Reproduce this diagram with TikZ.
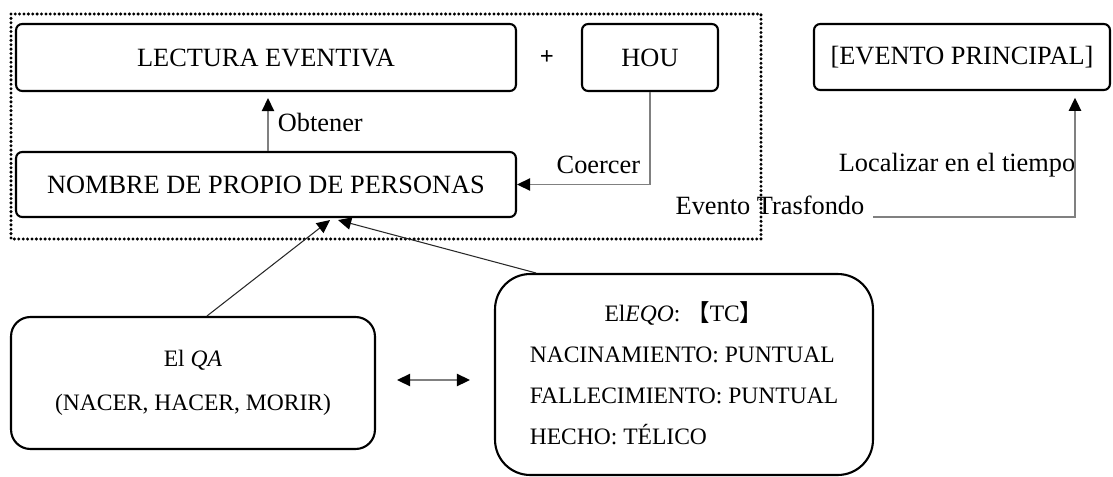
\documentclass[tikz,border=0pt]{standalone}
\usepackage{fontspec}
\setmainfont{Liberation Serif}
\newfontfamily\cjkfont{Noto Sans CJK SC}
\usetikzlibrary{arrows.meta,calc}
\begin{document}
\begin{tikzpicture}[x=0.02cm,y=-0.02cm,
  box/.style={draw=black,line width=1.2pt,rounded corners=3.5pt,inner sep=0pt,align=center,font=\fontsize{15}{18}\selectfont},
  qabox/.style={draw=black,line width=1.2pt,rounded corners=11pt,inner sep=0pt,align=center,font=\fontsize{13.4}{25}\selectfont},
  eqobox/.style={draw=black,line width=1.2pt,rounded corners=20pt,inner sep=0pt,font=\fontsize{13.4}{23.3}\selectfont},
  lbl/.style={inner sep=2pt,font=\fontsize{15}{18}\selectfont},
  tip/.tip={Triangle[length=7.5pt,width=7pt,color=black]},
  gline/.style={draw={rgb,255:red,128;green,128;blue,128},line width=1pt},
  kline/.style={draw={rgb,255:red,40;green,40;blue,40},line width=0.6pt},
  dotframe/.style={draw=black,line width=1.9pt,line cap=round,dash pattern=on 0pt off 2.5pt}
]
\useasboundingbox (0,0) rectangle (1113,477);

% dotted frame
\draw[dotframe] (11,14) rectangle (761,239);

% boxes
\node[box,minimum width=10cm,minimum height=1.34cm] (lec) at (266,57.5) {LECTURA EVENTIVA};
\node[box,minimum width=2.72cm,minimum height=1.34cm] (hou) at (650,57.5) {HOU};
\node[box,minimum width=5.92cm,minimum height=1.32cm] (evp) at (962,57) {[EVENTO PRINCIPAL]};
\node[box,minimum width=10cm,minimum height=1.3cm] (nom) at (266,184.5) {NOMBRE DE PROPIO DE PERSONAS};
\node[font=\fontsize{14}{16}\selectfont\bfseries,inner sep=0pt] (plus) at (547,58) {+};

\node[qabox,minimum width=7.28cm,minimum height=2.64cm] (qa) at (193,383) {El \textit{QA}\\(NACER, HACER, MORIR)};
\node[eqobox,minimum width=7.56cm,minimum height=4.02cm] (eqo) at (684,374.5)
  {\begin{tabular}{@{}l@{}}\multicolumn{1}{@{}c@{}}{El\textit{EQO}: {\cjkfont 【}TC{\cjkfont 】}}\\NACINAMIENTO: PUNTUAL\\FALLECIMIENTO: PUNTUAL\\HECHO: TÉLICO\end{tabular}};

% labels
\node[lbl,anchor=west] (obt) at (274,122) {Obtener};
\node[lbl,anchor=east] (coe) at (644,165) {Coercer};
\node[lbl] (loc) at (957,165) {Localizar en el tiempo};
\node[lbl] (etf) at (770,205) {Evento Trasfondo};

% connectors
\coordinate (obx) at (268,0);
\draw[gline,-tip,shorten >=3.4pt] (nom.north -| obx) -- (lec.south -| obx);
\draw[gline,-tip] (hou.south) |- (nom.east);
\coordinate (tA) at (873,217);
\coordinate (tB) at (1075,0);
\draw[gline,-tip,shorten >=3.8pt] (tA) -| (evp.south -| tB);
\draw[kline,-tip] ($(qa.north)+(14,0)$) -- ($(nom.south)+(64,2)$);
\draw[kline,-tip] ($(eqo.north west)+(42,0)$) -- ($(nom.south)+(72,2)$);
\coordinate (d1) at (397,380);
\coordinate (d2) at (470,380);
\draw[gline,tip-tip] (d1) -- (d2);
\end{tikzpicture}
\end{document}
